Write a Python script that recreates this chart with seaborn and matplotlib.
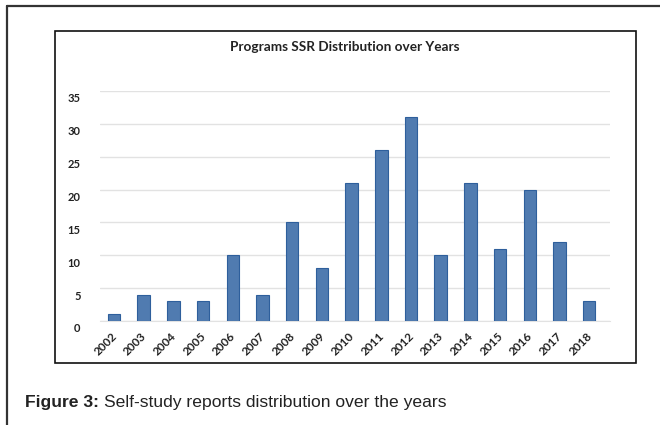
import matplotlib
matplotlib.use('Agg')
import matplotlib.pyplot as plt
import matplotlib.transforms as mtransforms
from matplotlib.patches import Rectangle
from matplotlib.lines import Line2D
import seaborn as sns
import pandas as pd

years = ['2002', '2003', '2004', '2005', '2006', '2007', '2008', '2009', '2010',
         '2011', '2012', '2013', '2014', '2015', '2016', '2017', '2018']
ssr_counts = [1, 4, 3, 3, 10, 4, 15, 8, 21, 26, 31, 10, 21, 11, 20, 12, 3]
y_ticks = [0, 5, 10, 15, 20, 25, 30, 35]

title = 'Programs SSR Distribution over Years'
caption_bold = 'Figure 3:'
caption_text = 'Self-study reports distribution over the years'

df = pd.DataFrame({'Year': years, 'Count': ssr_counts})

sns.set_style('white')
plt.rcParams['font.family'] = ['Lato', 'DejaVu Sans']

fig = plt.figure(figsize=(6.6, 4.25), dpi=100)
W, H = 660, 425

# outer page frame (top + left)
fig.add_artist(Line2D([7 / W, 1.0], [1 - 6 / H, 1 - 6 / H], color='#333333', lw=1.6))
fig.add_artist(Line2D([7 / W, 7 / W], [0, 1 - 6 / H], color='#333333', lw=1.6))

# chart box
fig.add_artist(Rectangle((55 / W, 1 - 363 / H), (636 - 55) / W, (363 - 31) / H,
                         fill=False, edgecolor='#111111', lw=1.2))

ax = fig.add_axes([100 / W, 1 - 321 / H, 510 / W, 230 / H])
sns.barplot(data=df, x='Year', y='Count', color='#4079c0', width=0.42,
            edgecolor='#2e5f9c', linewidth=0.8, ax=ax, zorder=3)
ax.set_xlim(-0.47, 16.7)
ax.set_ylim(0, 35)
ax.set_yticks(y_ticks)
ax.yaxis.grid(True, color='#e2e2e2', lw=1.0, zorder=0)
ax.set_axisbelow(True)
for s in ax.spines.values():
    s.set_visible(False)
ax.spines['bottom'].set_visible(True)
ax.spines['bottom'].set_color('#e2e2e2')
ax.set_xlabel('')
ax.set_ylabel('')
ax.tick_params(axis='both', length=0, colors='#222222')
ax.tick_params(axis='y', pad=14, labelsize=8)
ax.tick_params(axis='x', pad=7, labelsize=8.5)
for lab in ax.get_yticklabels():
    lab.set_fontweight('bold')
    lab.set_transform(lab.get_transform() + mtransforms.ScaledTranslation(0, -7 / 100, fig.dpi_scale_trans))
for lab in ax.get_xticklabels():
    lab.set_fontweight('bold')
    lab.set_rotation(45)
    lab.set_ha('right')
    lab.set_rotation_mode('anchor')
    lab.set_transform(lab.get_transform() + mtransforms.ScaledTranslation(-3 / 100, 0, fig.dpi_scale_trans))

fig.text(345 / W, 1 - 47 / H, title, ha='center', va='center',
         fontsize=9.8, fontweight='bold', color='#222222')

t = fig.text(25 / W, 1 - 403 / H, caption_bold, ha='left', va='center',
             fontsize=12.6, fontweight='bold', family='Liberation Sans', color='#222222')
fig.canvas.draw()
bb = t.get_window_extent()
fig.text((bb.x1 + 5) / W, 1 - 403 / H, caption_text, ha='left', va='center',
         fontsize=12.6, family='Liberation Sans', color='#222222')

fig.savefig('out.png', dpi=100)
